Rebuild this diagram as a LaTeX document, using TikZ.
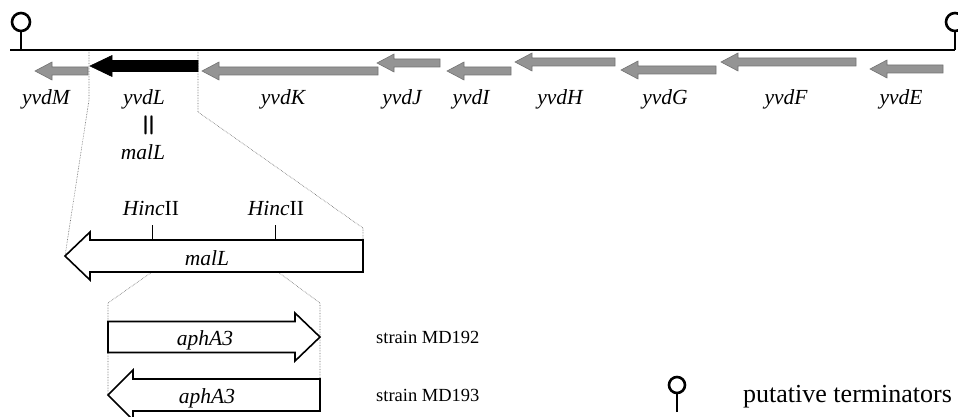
\documentclass[tikz,border=0pt]{standalone}
\usepackage{fontspec}
\setmainfont{Liberation Serif}
% #1 style, #2 tip x, #3 tail x, #4 centre y, #5 head length (signed), #6 head half height, #7 shaft half height
\newcommand{\genearrow}[7]{%
  \path[#1] (#2,#4) -- (#2+#5,#4-#6) -- (#2+#5,#4-#7) -- (#3,#4-#7) -- (#3,#4+#7)
    -- (#2+#5,#4+#7) -- (#2+#5,#4+#6) -- cycle;}
\begin{document}
\begin{tikzpicture}[x=1pt,y=-1pt,
  axisline/.style={line width=2.6pt},
  termline/.style={line width=2.6pt},
  graygene/.style={fill=black!42, draw=black!55, line width=0.6pt},
  blackgene/.style={fill=black, draw=black, line width=0.6pt},
  boxgene/.style={fill=white, draw=black, line width=1.6pt, line join=miter},
  guide/.style={densely dotted, draw=black!60, line width=0.6pt},
  lab/.style={font=\fontsize{21.5}{24}\selectfont\itshape, anchor=base, inner sep=0pt},
  rlab/.style={font=\fontsize{21.5}{24}\selectfont, anchor=base, inner sep=0pt},
  strainlab/.style={font=\fontsize{18.5}{20}\selectfont, anchor=base west, inner sep=0pt},
  leglab/.style={font=\fontsize{26}{30}\selectfont, anchor=base west, inner sep=0pt},
  tick/.style={line width=0.7pt}]
\useasboundingbox (0,0) rectangle (958,417);

% chromosome line and terminators
\coordinate (lineL) at (10,50);
\coordinate (lineR) at (955,50);
\draw[axisline] (lineL) -- (lineR);
\coordinate (t1foot) at (21,50);
\coordinate (t1top) at (21,31);
\draw[termline] (t1foot) -- (t1top);
\draw[termline] (21,22) circle[radius=9];
\coordinate (t2foot) at (955,50);
\coordinate (t2top) at (955,31);
\draw[termline] (t2foot) -- (t2top);
\draw[termline] (955,22) circle[radius=9];

% guide lines (behind arrows)
\coordinate (Ltop) at (89,52);
\coordinate (Lbend) at (89,100);
\coordinate (Lbot) at (65,256);
\coordinate (Rtop) at (198,52);
\coordinate (Rbend) at (198,112);
\coordinate (Rbend2) at (363,228);
\coordinate (Rbot) at (363,240);
\draw[guide] (Ltop) -- (Lbend) -- (Lbot);
\draw[guide] (Rtop) -- (Rbend) -- (Rbend2) -- (Rbot);
\coordinate (Ha) at (152,272);
\coordinate (Habend) at (108,303);
\coordinate (Habot) at (108,395);
\coordinate (Hb) at (278,272);
\coordinate (Hbbend) at (320,303);
\coordinate (Hbbot) at (320,379);
\draw[guide] (Ha) -- (Habend) -- (Habot);
\draw[guide] (Hb) -- (Hbbend) -- (Hbbot);

% genes on the chromosome
\genearrow{graygene}{35}{88}{71}{17}{9}{4}
\genearrow{blackgene}{90}{198}{66}{22}{10.5}{5.5}
\genearrow{graygene}{202}{378}{71}{17}{9}{4}
\genearrow{graygene}{377}{440}{63}{17}{9}{4}
\genearrow{graygene}{447}{511}{71}{17}{9}{4}
\genearrow{graygene}{515}{615}{62}{17}{9}{4}
\genearrow{graygene}{621}{716}{70}{17}{9}{4}
\genearrow{graygene}{721}{856}{62}{17}{9}{4}
\genearrow{graygene}{870}{943}{69}{17}{9}{4}

\node[lab] (yvdM) at (46,105) {yvdM};
\node[lab] (yvdL) at (144,105) {yvdL};
\node[lab] (yvdK) at (283,105) {yvdK};
\node[lab] (yvdJ) at (402,105) {yvdJ};
\node[lab] (yvdI) at (471,105) {yvdI};
\node[lab] (yvdH) at (560,105) {yvdH};
\node[lab] (yvdG) at (665,105) {yvdG};
\node[lab] (yvdF) at (786,105) {yvdF};
\node[lab] (yvdE) at (901,105) {yvdE};
\node[font=\fontsize{26}{28}\selectfont\sffamily\bfseries, rotate=90, inner sep=0pt] (eq) at (150,125) {=};
\node[lab] (malLa) at (143,160) {malL};

% malL enlarged
\genearrow{boxgene}{65}{363}{256}{25}{24}{16}
\node[lab] (malLb) at (207,265) {malL};
\coordinate (h1a) at (152,225);
\coordinate (h1b) at (152,240);
\coordinate (h2a) at (275,225);
\coordinate (h2b) at (275,240);
\draw[tick] (h1a) -- (h1b);
\draw[tick] (h2a) -- (h2b);
\node[rlab] (hinc1) at (151,215) {\textit{Hinc}II};
\node[rlab] (hinc2) at (276,215) {\textit{Hinc}II};

% aphA3 insertions
\genearrow{boxgene}{320}{108}{337}{-25}{24}{15.5}
\node[lab] (aph1) at (205,345) {aphA3};
\genearrow{boxgene}{108}{320}{395}{25}{25}{16}
\node[lab] (aph2) at (207,403) {aphA3};
\node[strainlab] (s192) at (376,343) {strain MD192};
\node[strainlab] (s193) at (376,401) {strain MD193};

% legend
\coordinate (legfoot) at (677,412);
\coordinate (legtop) at (677,393);
\draw[termline] (legfoot) -- (legtop);
\draw[termline] (677,385) circle[radius=8];
\node[leglab] (legend) at (743,402) {putative terminators};
\end{tikzpicture}
\end{document}
